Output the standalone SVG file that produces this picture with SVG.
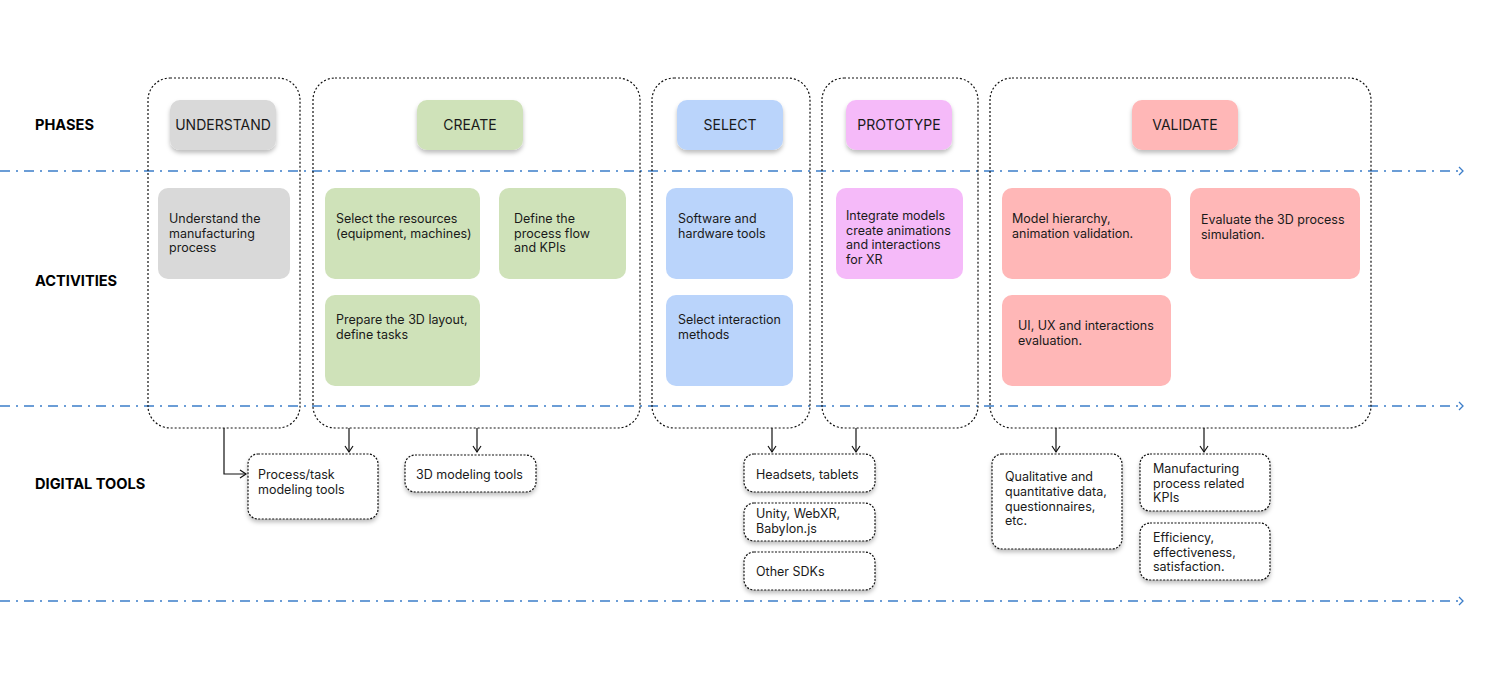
<svg xmlns="http://www.w3.org/2000/svg" width="1507" height="678" viewBox="0 0 1507 678">
<style>
text{font-family:Inter,"Liberation Sans",sans-serif;fill:#1a1a1a}
.lbl{font-size:14.6px;font-weight:700;fill:#000}
.ph{font-size:14px;text-anchor:middle}
.act{font-size:12.5px}
.tool{font-size:12.5px}
.cont{fill:none;stroke:#111;stroke-width:1.2;stroke-dasharray:2 2}
.tb{fill:#fff;stroke:#111;stroke-width:1.2;stroke-dasharray:2 1.5;filter:url(#sh)}
.sep{stroke:#3b7dc9;stroke-width:1.3;stroke-dasharray:10 6 2 6;fill:none}
.chev{stroke:#3b7dc9;stroke-width:1.3;fill:none}
.conn{stroke:#111;stroke-width:1.2;fill:none;marker-end:url(#ah)}
</style>
<defs>
<filter id="sh" x="-20%" y="-20%" width="140%" height="160%"><feDropShadow dx="0" dy="3" stdDeviation="2" flood-color="#000" flood-opacity="0.25"/></filter>
<marker id="ah" markerWidth="10" markerHeight="10" refX="8" refY="5" orient="auto" markerUnits="userSpaceOnUse"><path d="M2,1 L8,5 L2,9" fill="none" stroke="#111" stroke-width="1.2"/></marker>
</defs>
<rect width="1507" height="678" fill="#fff"/>

<g id="separators">
<line class="sep" x1="0" y1="171" x2="1461" y2="171"/><path class="chev" d="M1459,167 L1463,171 L1459,175"/>
<line class="sep" x1="0" y1="406" x2="1461" y2="406"/><path class="chev" d="M1459,402 L1463,406 L1459,410"/>
<line class="sep" x1="0" y1="601" x2="1461" y2="601"/><path class="chev" d="M1459,597 L1463,601 L1459,605"/>
</g>

<g id="row-labels">
<text class="lbl" x="35" y="130">PHASES</text>
<text class="lbl" x="35" y="286">ACTIVITIES</text>
<text class="lbl" x="35" y="489">DIGITAL TOOLS</text>
</g>

<g id="containers">
<rect class="cont" x="148" y="78" width="152" height="350" rx="22"/>
<rect class="cont" x="313" y="78" width="327" height="350" rx="22"/>
<rect class="cont" x="652" y="78" width="158" height="350" rx="22"/>
<rect class="cont" x="822" y="78" width="156" height="350" rx="22"/>
<rect class="cont" x="990" y="78" width="381" height="350" rx="22"/>
</g>

<g id="phase-understand"><rect x="170" y="100" width="106" height="50" rx="10" fill="#d9d9d9" filter="url(#sh)"/><text class="ph" x="223" y="130">UNDERSTAND</text></g>
<g id="phase-create"><rect x="417" y="100" width="106" height="50" rx="10" fill="#cfe2b9" filter="url(#sh)"/><text class="ph" x="470" y="130">CREATE</text></g>
<g id="phase-select"><rect x="677" y="100" width="106" height="50" rx="10" fill="#bad4fb" filter="url(#sh)"/><text class="ph" x="730" y="130">SELECT</text></g>
<g id="phase-prototype"><rect x="846" y="100" width="106" height="50" rx="10" fill="#f5baf9" filter="url(#sh)"/><text class="ph" x="899" y="130">PROTOTYPE</text></g>
<g id="phase-validate"><rect x="1132" y="100" width="106" height="50" rx="10" fill="#ffb7b7" filter="url(#sh)"/><text class="ph" x="1185" y="130">VALIDATE</text></g>

<g id="act-understand"><rect x="158" y="188" width="132" height="91" rx="10" fill="#d9d9d9"/><text class="act" x="169" y="223">Understand the</text><text class="act" x="169" y="237.5">manufacturing</text><text class="act" x="169" y="252">process</text></g>
<g id="act-resources"><rect x="325" y="188" width="155" height="91" rx="10" fill="#cfe2b9"/><text class="act" x="336" y="223">Select the resources</text><text class="act" x="336" y="237.5">(equipment, machines)</text></g>
<g id="act-define"><rect x="499" y="188" width="127" height="91" rx="10" fill="#cfe2b9"/><text class="act" x="514" y="223">Define the</text><text class="act" x="514" y="237.5">process flow</text><text class="act" x="514" y="252">and KPIs</text></g>
<g id="act-prepare"><rect x="325" y="295" width="155" height="91" rx="10" fill="#cfe2b9"/><text class="act" x="336" y="324">Prepare the 3D layout,</text><text class="act" x="336" y="338.5">define tasks</text></g>
<g id="act-software"><rect x="666" y="188" width="127" height="91" rx="10" fill="#bad4fb"/><text class="act" x="678" y="223">Software and</text><text class="act" x="678" y="237.5">hardware tools</text></g>
<g id="act-interaction"><rect x="666" y="295" width="127" height="91" rx="10" fill="#bad4fb"/><text class="act" x="678" y="324">Select interaction</text><text class="act" x="678" y="338.5">methods</text></g>
<g id="act-integrate"><rect x="836" y="188" width="127" height="91" rx="10" fill="#f5baf9"/><text class="act" x="846" y="220">Integrate models</text><text class="act" x="846" y="234.5">create animations</text><text class="act" x="846" y="249">and interactions</text><text class="act" x="846" y="263.5">for XR</text></g>
<g id="act-model"><rect x="1002" y="188" width="169" height="91" rx="10" fill="#ffb7b7"/><text class="act" x="1012" y="223">Model hierarchy,</text><text class="act" x="1012" y="237.5">animation validation.</text></g>
<g id="act-evaluate"><rect x="1190" y="188" width="170" height="91" rx="10" fill="#ffb7b7"/><text class="act" x="1201" y="224">Evaluate the 3D process</text><text class="act" x="1201" y="238.5">simulation.</text></g>
<g id="act-uiux"><rect x="1002" y="295" width="169" height="91" rx="10" fill="#ffb7b7"/><text class="act" x="1018" y="330">UI, UX and interactions</text><text class="act" x="1018" y="344.5">evaluation.</text></g>

<g id="tool-process"><rect class="tb" x="248" y="454" width="130" height="65" rx="10"/><text class="tool" x="258" y="479">Process/task</text><text class="tool" x="258" y="494">modeling tools</text></g>
<g id="tool-3d"><rect class="tb" x="405" y="455" width="131" height="37" rx="10"/><text class="tool" x="416" y="479">3D modeling tools</text></g>
<g id="tool-headsets"><rect class="tb" x="744" y="454" width="131" height="38" rx="10"/><text class="tool" x="756" y="479">Headsets, tablets</text></g>
<g id="tool-unity"><rect class="tb" x="744" y="503" width="131" height="38" rx="10"/><text class="tool" x="756" y="518">Unity, WebXR,</text><text class="tool" x="756" y="533">Babylon.js</text></g>
<g id="tool-sdks"><rect class="tb" x="744" y="552" width="131" height="38" rx="10"/><text class="tool" x="756" y="576">Other SDKs</text></g>
<g id="tool-qualitative"><rect class="tb" x="992" y="454" width="130" height="95" rx="10"/><text class="tool" x="1005" y="481">Qualitative and</text><text class="tool" x="1005" y="496">quantitative data,</text><text class="tool" x="1005" y="510.5">questionnaires,</text><text class="tool" x="1005" y="525">etc.</text></g>
<g id="tool-kpis"><rect class="tb" x="1140" y="454" width="130" height="57" rx="10"/><text class="tool" x="1153" y="473">Manufacturing</text><text class="tool" x="1153" y="487.5">process related</text><text class="tool" x="1153" y="502">KPIs</text></g>
<g id="tool-efficiency"><rect class="tb" x="1140" y="523" width="130" height="57" rx="10"/><text class="tool" x="1153" y="542">Efficiency,</text><text class="tool" x="1153" y="556.5">effectiveness,</text><text class="tool" x="1153" y="571">satisfaction.</text></g>

<g id="connectors">
<path class="conn" d="M224,428 V474 H246"/>
<path class="conn" d="M349,428 V452"/>
<path class="conn" d="M477,428 V452"/>
<path class="conn" d="M772,428 V452"/>
<path class="conn" d="M856,428 V452"/>
<path class="conn" d="M1056,428 V452"/>
<path class="conn" d="M1204,428 V452"/>
</g>
</svg>
